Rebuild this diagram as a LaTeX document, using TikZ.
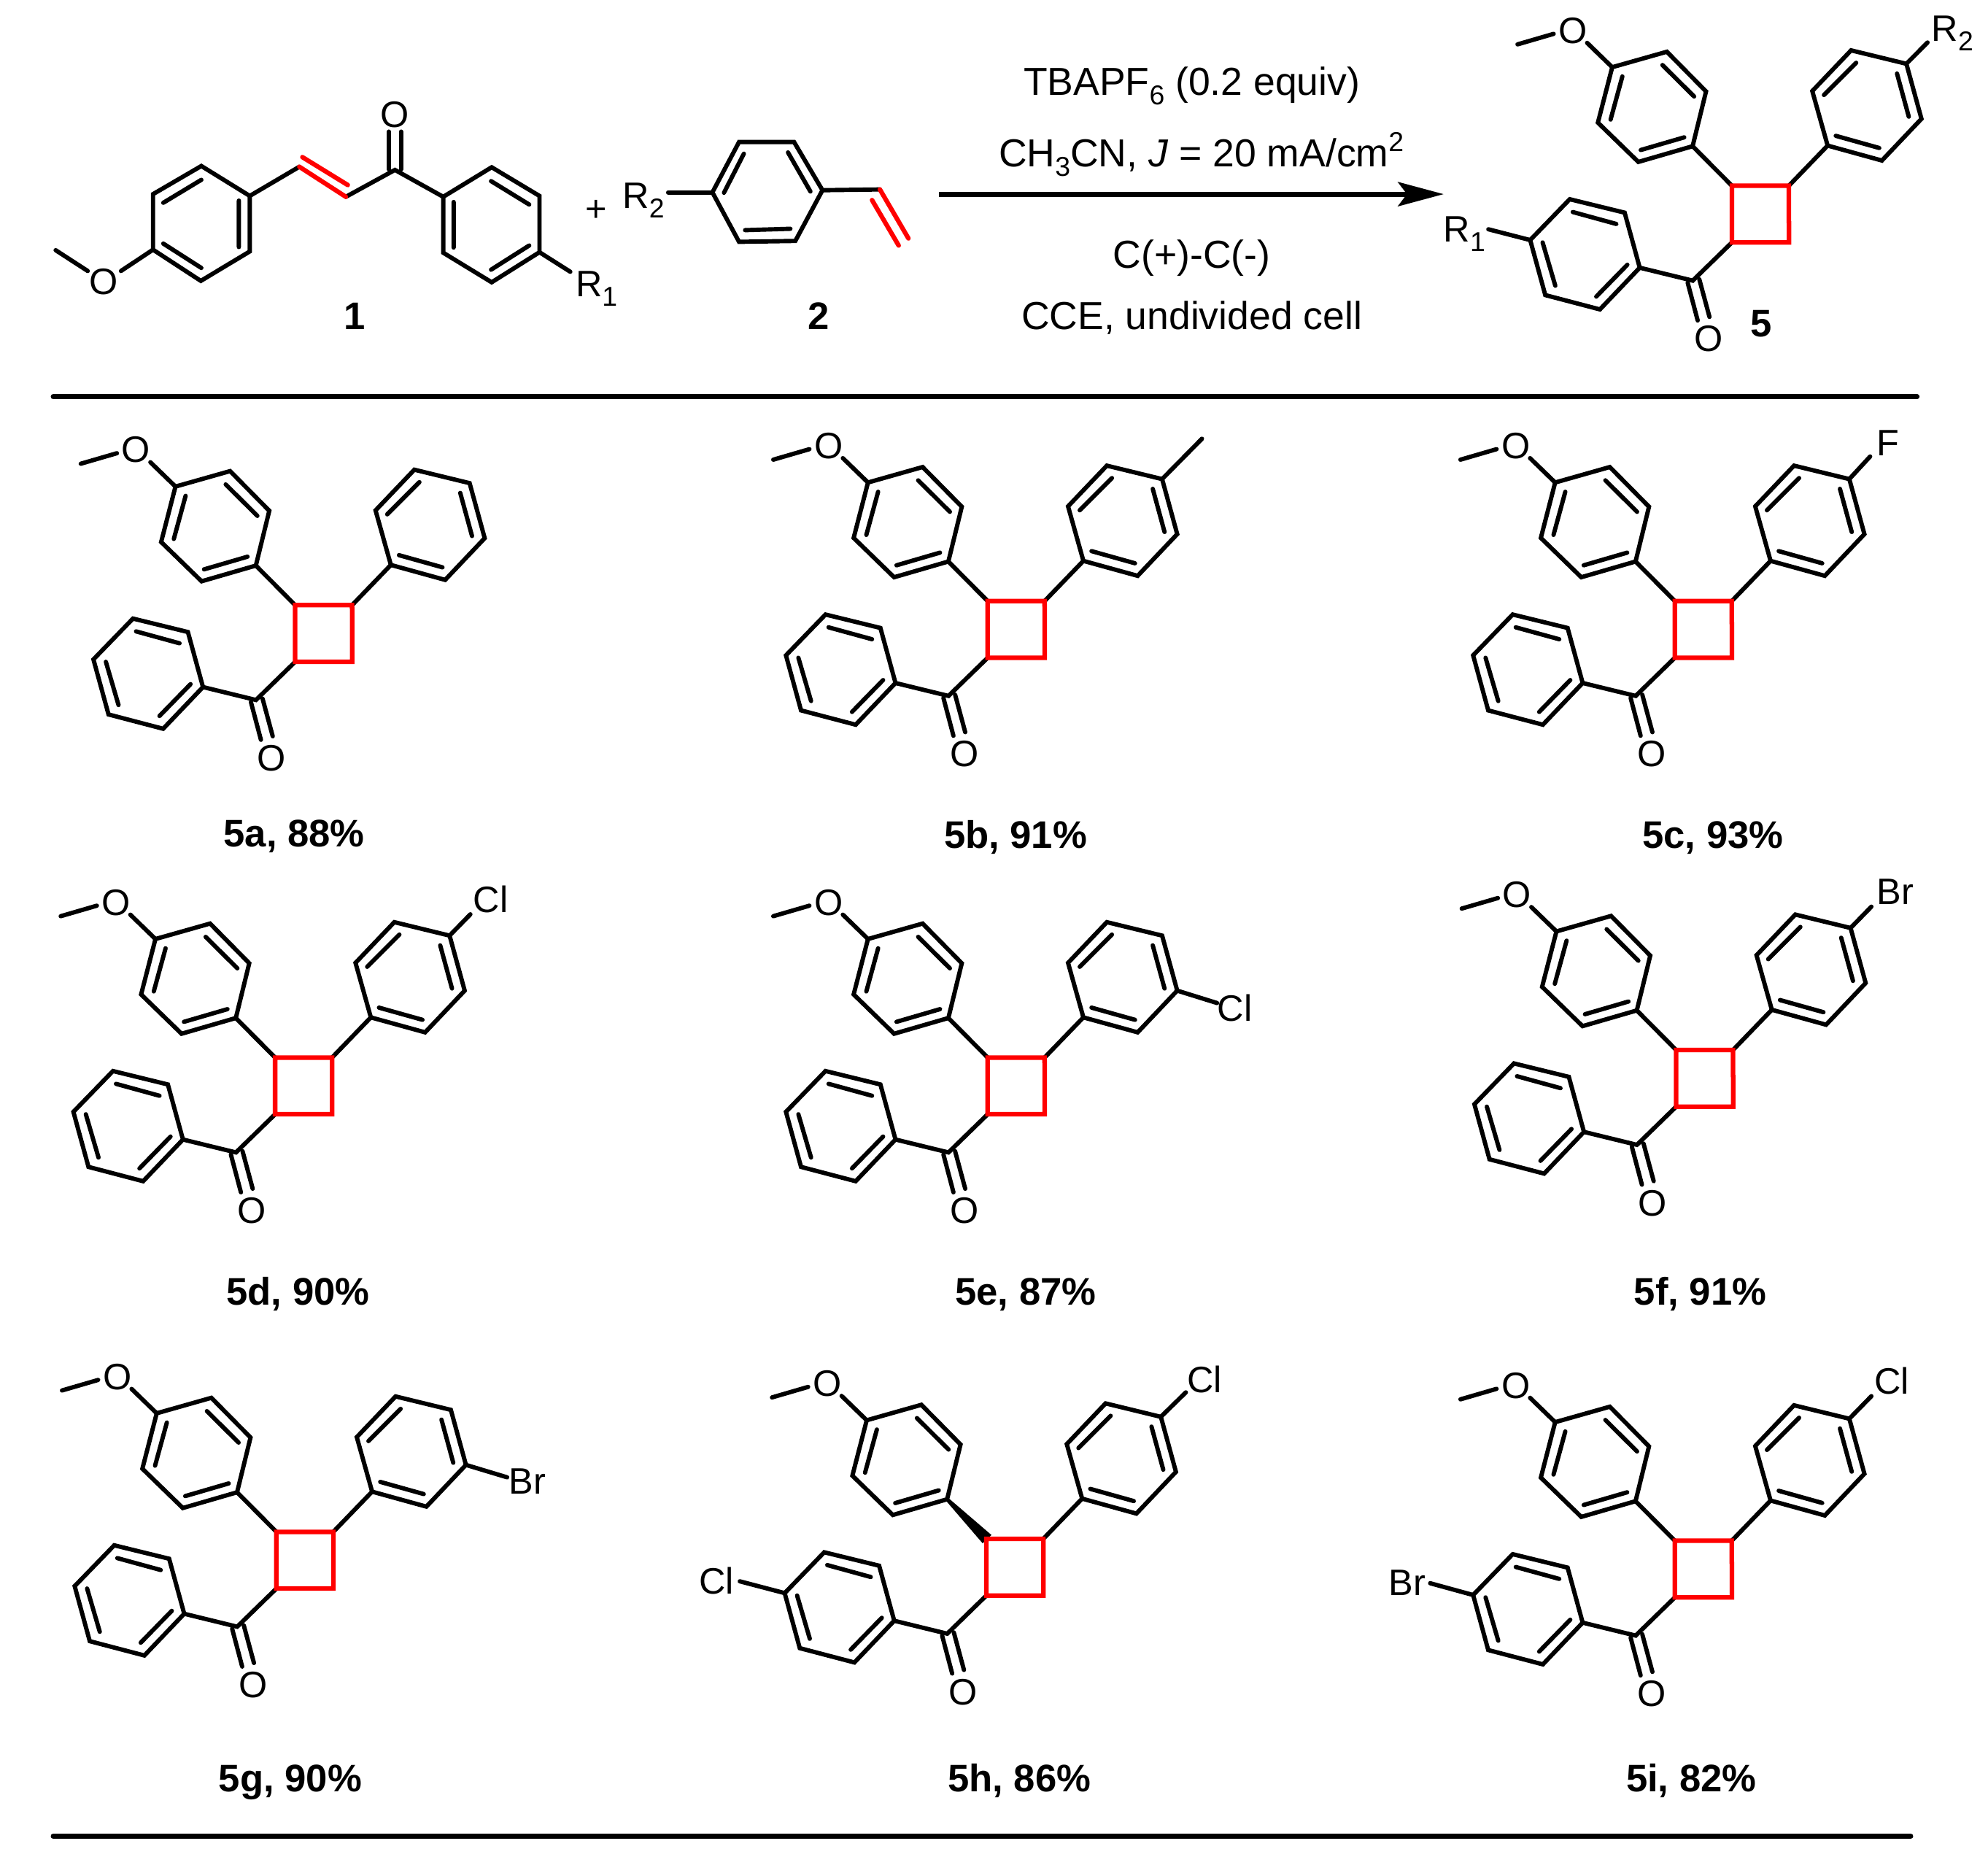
\documentclass[tikz,border=0pt]{standalone}
\usepackage{fontspec}
\setmainfont{Liberation Sans}
\usetikzlibrary{arrows.meta}
\newcommand{\lowtxt}[1]{\raisebox{-7.5pt}{\fontsize{21.5}{22}\selectfont #1}}
\newcommand{\hitxt}[1]{\raisebox{12pt}{\fontsize{21.5}{22}\selectfont #1}}
\newif\ifwedgebond
\tikzset{
  bond/.style={line width=3.4pt,line cap=round,line join=miter,black},
  redbond/.style={line width=3.6pt,line cap=round,line join=miter,red},
  atomlab/.style={inner sep=0pt,font=\fontsize{29}{30}\selectfont,text height=20.8pt,text depth=0pt,text=black},
  condlab/.style={inner sep=0pt,font=\fontsize{30.8}{32}\selectfont,text height=22pt,text depth=0pt,text=black},
  boldlab/.style={inner sep=0pt,font=\fontsize{30.3}{32}\selectfont\bfseries,text height=21.7pt,text depth=0pt,text=black},
  rule/.style={line width=4pt,line cap=round,black},
}
% #1 id, #2 x, #3 y of the top-left corner of the cyclobutane, #4 extra drawing
\newcommand{\core}[4]{%
\begin{scope}[shift={(#2,#3)}]
  \coordinate (#1tl) at (0,0); \coordinate (#1tr) at (44.9,0);
  \coordinate (#1br) at (45,44.7); \coordinate (#1bl) at (0,44.7);
  \coordinate (#1a1) at (-94.4,-93.5); \coordinate (#1a2) at (-51.3,-105.7);
  \coordinate (#1a3) at (-20.4,-74.4); \coordinate (#1a4) at (-31,-31.2);
  \coordinate (#1a5) at (-73.8,-18.8); \coordinate (#1a6) at (-105.7,-49.8);
  \coordinate (#1b1) at (94,-106.8); \coordinate (#1b2) at (137.6,-96.2);
  \coordinate (#1b3) at (149.5,-52.8); \coordinate (#1b4) at (118.3,-19.9);
  \coordinate (#1b5) at (75.5,-31.7); \coordinate (#1b6) at (63.4,-74.7);
  \coordinate (#1c1) at (-72.7,64.6); \coordinate (#1c2) at (-104.1,97.5);
  \coordinate (#1c3) at (-147.2,86.2); \coordinate (#1c4) at (-159.1,42.8);
  \coordinate (#1c5) at (-127.9,10.6); \coordinate (#1c6) at (-84.6,21.2);
  \coordinate (#1co) at (-30.9,74.8);
  \node[atomlab] (#1ome) at (-125.5,-122.8) {O};
  \node[atomlab] (#1oxo) at (-18.5,120.3) {O};
  \coordinate (#1me) at (-169.1,-111.5);
  \draw[bond] (#1a1)--(#1a2)--(#1a3)--(#1a4)--(#1a5)--(#1a6)--cycle;
  \draw[bond] (-86.4,-86.2)--(-95.7,-52.2) (-54.8,-95.2)--(-29.8,-70.4) (-71.9,-28.2)--(-37.6,-38.2);
  \draw[bond] (#1a1)--(-114.2,-112.7) (-140.6,-119.8)--(#1me);
  \draw[bond] (#1b1)--(#1b2)--(#1b3)--(#1b4)--(#1b5)--(#1b6)--cycle;
  \draw[bond] (98,-97)--(72.6,-71.6) (130.2,-88.5)--(139.5,-54.5) (81.9,-39.4)--(116.2,-29.8);
  \draw[bond] (#1b5)--(#1tr);
  \draw[bond] (#1c1)--(#1c2)--(#1c3)--(#1c4)--(#1c5)--(#1c6)--cycle;
  \draw[bond] (-82.5,62.3)--(-107,87.4) (-139.3,78.8)--(-149.3,44.7) (-125.5,20.7)--(-91.2,30.1);
  \draw[bond] (#1bl)--(#1co)--(#1c1);
  \draw[bond] (-34.9,76.4)--(-27,106.2) (-25.7,73.8)--(-17.7,103.4);
  \ifwedgebond
    \fill[black] (-32,-30.2) -- (-30,-32.2) -- (4,-3) -- (-3,3.5) -- cycle;
  \else
    \draw[bond] (#1a4)--(#1tl);
  \fi
  \draw[redbond,line cap=butt] (#1tl)--(#1tr)--(#1br)--(#1bl)--cycle;
  #4
\end{scope}}
\begin{document}
\begin{tikzpicture}[x=1pt,y=-1pt]
\useasboundingbox (0,0) rectangle (1568,1464.4);
\fill[white] (0,0) rectangle (1568,1464.4);

% --- reactant 1
\coordinate (p1) at (158.8,130.9); \coordinate (p2) at (197,154.5);
\coordinate (p3) at (197,198.3); \coordinate (p4) at (158.4,221.5);
\coordinate (p5) at (120.7,196.9); \coordinate (p6) at (120.7,153.1);
\draw[bond] (p1)--(p2)--(p3)--(p4)--(p5)--(p6)--cycle;
\draw[bond] (128.8,159.9)--(158.8,141.8) (188.4,158.2)--(188.4,194.8) (128.8,192.1)--(158.8,211.3);
\node[atomlab] (mo1) at (81.6,221.5) {O};
\coordinate (me1) at (43.9,197.3);
\draw[bond] (p5)--(95.4,213.7) (69.2,213.7)--(me1);
\coordinate (v1) at (236.1,131.5); \coordinate (v2) at (272.8,155.2);
\coordinate (k1) at (311.5,134); \coordinate (q1) at (349.6,155.2);
\coordinate (q2) at (387.8,131.9); \coordinate (q3) at (425.5,154.5);
\coordinate (q4) at (425.5,198.9); \coordinate (q5) at (387.8,222.6);
\coordinate (q6) at (349.6,199.3);
\draw[bond] (p2)--(v1) (v2)--(k1)--(q1);
\draw[redbond] (v1)--(v2) (238.5,123.9)--(274.3,145.9);
\node[atomlab] (oxo1) at (311.5,90) {O};
\draw[bond] (306.7,103.8)--(306.7,133.6) (316.3,103.8)--(316.3,133.6);
\draw[bond] (q1)--(q2)--(q3)--(q4)--(q5)--(q6)--cycle;
\draw[bond] (387.3,142.8)--(417.4,161.3) (357.8,159.3)--(357.8,195.2) (387.3,212.7)--(417.4,193.6);
\node[atomlab] (r1a) at (470.5,223.5) {R\lowtxt{1}};
\draw[bond] (q4)--(449.8,214.3);
\node[boldlab] (lab1) at (280,249) {1};
\node[atomlab] (plus) at (470,164) {+};

% --- reactant 2
\node[atomlab] (r2a) at (507.5,153.6) {R\lowtxt{2}};
\coordinate (s1) at (561.9,151.7); \coordinate (s2) at (582.9,112);
\coordinate (s3) at (626.3,112); \coordinate (s4) at (648.7,150);
\coordinate (s5) at (627.3,190); \coordinate (s6) at (582.9,190.7);
\draw[bond] (s1)--(s2)--(s3)--(s4)--(s5)--(s6)--cycle;
\draw[bond] (586.7,121.2)--(571,152) (621.5,120.2)--(639.2,151) (587.7,181.5)--(623.4,180.4);
\draw[bond] (527,151.7)--(s1);
\coordinate (w1) at (694,149.4);
\draw[bond] (s4)--(w1);
\draw[redbond] (w1)--(716.5,188) (687.8,157.8)--(708.8,193.6);
\node[boldlab] (lab2) at (645.5,249) {2};

% --- conditions and arrow
\node[condlab] (cond1) at (940,64) {TBAPF\lowtxt{6} (0.2 equiv)};
\node[condlab] (cond2) at (947.5,120.5) {CH\lowtxt{3}CN, \textit{J} = 20 mA/cm\hitxt{2}};
\node[condlab] (cond3) at (940,200.5) {C(+)-C(-)};
\node[condlab] (cond4) at (940,249) {CCE, undivided cell};
\coordinate (arrA) at (740.8,153.1); \coordinate (arrB) at (1138.7,153.1);
\draw[line width=4pt,-{Stealth[length=36pt,width=19pt,inset=7pt]}] (arrA)--(arrB);

% --- rules
\coordinate (ruleAl) at (42,312.8); \coordinate (ruleAr) at (1512,312.8);
\coordinate (ruleBl) at (42,1448); \coordinate (ruleBr) at (1507,1448);
\draw[rule] (ruleAl)--(ruleAr);
\draw[rule] (ruleBl)--(ruleBr);

% --- general product 5
\core{g}{1366}{146.5}{
  \node[atomlab] (gr2) at (174,-124.5) {R\lowtxt{2}};
  \draw[bond] (gb2)--(154.3,-113);
  \node[atomlab] (gr1) at (-211,33.8) {R\lowtxt{1}};
  \draw[bond] (gc4)--(-192.1,34.3);
}
\node[boldlab] (lab5) at (1389,254.5) {5};

% --- 5a
\core{a}{232.8}{477.2}{}
\node[boldlab] (laba) at (232,657) {5a, 88\%};
% --- 5b
\core{b}{779}{474}{\coordinate (bch3) at (169,-128); \draw[bond] (bb2)--(bch3);}
\node[boldlab] (labb) at (801,658) {5b, 91\%};
% --- 5c
\core{c}{1321}{474}{\node[atomlab] (cf) at (168,-125) {F}; \draw[bond] (cb2)--(154,-114);}
\node[boldlab] (labc) at (1351,658) {5c, 93\%};
% --- 5d
\core{d}{217}{834}{\node[atomlab] (dcl) at (170,-125) {Cl}; \draw[bond] (db2)--(154,-113);}
\node[boldlab] (labd) at (235,1018) {5d, 90\%};
% --- 5e
\core{e}{779}{834}{\node[atomlab] (ecl) at (195,-39) {Cl}; \draw[bond] (eb3)--(181,-43);}
\node[boldlab] (labe) at (809,1018) {5e, 87\%};
% --- 5f
\core{f}{1322}{828}{\node[atomlab] (fbr) at (173,-125) {Br}; \draw[bond] (fb2)--(154,-113);}
\node[boldlab] (labf) at (1341,1018) {5f, 91\%};
% --- 5g
\core{h}{218}{1208}{\node[atomlab] (hbr) at (198,-40) {Br}; \draw[bond] (hb3)--(182,-43);}
\node[boldlab] (labg) at (229,1402) {5g, 90\%};
% --- 5h
\wedgebondtrue
\core{i}{778}{1213.5}{
  \node[atomlab] (icl) at (172,-125.5) {Cl}; \draw[bond] (ib2)--(157.3,-115.5);
  \node[atomlab] (icm) at (-213,33) {Cl}; \draw[bond] (ic4)--(-194.5,33.5);
}
\wedgebondfalse
\node[boldlab] (labh) at (804,1402) {5h, 86\%};
% --- 5i
\core{j}{1321}{1215}{
  \node[atomlab] (jcl) at (171,-126) {Cl}; \draw[bond] (jb2)--(155,-114);
  \node[atomlab] (jbr) at (-211,33) {Br}; \draw[bond] (jc4)--(-193,33.5);
}
\node[boldlab] (labi) at (1334,1402) {5i, 82\%};
\end{tikzpicture}
\end{document}
